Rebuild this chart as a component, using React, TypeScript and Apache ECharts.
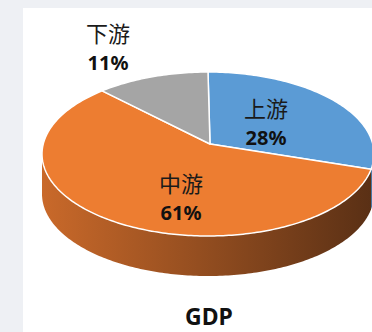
import React, { useEffect, useRef } from "react";
import * as echarts from "echarts";

const categories = ["上游", "中游", "下游"];
const values = [28, 61, 11];
const titleText = "GDP";

const topColors = ["#5B9BD5", "#ED7D31", "#A5A5A5"];
const sideStops = [
  ["#3f78ad", "#2a5480"],
  ["#c9692a", "#5a3015"],
  ["#8a8a8a", "#555555"],
];
// layout (pixels)
const CX = 208, CY = 154, RX = 166, RY = 82, HUB_X = 210, HUB_Y = 144, DEPTH = 40;
const LABEL_POS: Record<string, [number, number]> = {
  上游: [266, 107],
  中游: [181, 182],
  下游: [108, 32],
};

function rim(deg: number, dy = 0): number[] {
  const t = (deg * Math.PI) / 180;
  return [CX + RX * Math.sin(t), CY - RY * Math.cos(t) + dy];
}

export default function App() {
  const ref = useRef<HTMLDivElement>(null);
  useEffect(() => {
    const chart = echarts.init(ref.current!, undefined, { renderer: "svg" });
    const total = values.reduce((a, b) => a + b, 0);
    const starts: number[] = [];
    let acc = 0;
    values.forEach((v) => {
      starts.push(acc);
      acc += v;
    });
    chart.setOption({
      animation: false,
      backgroundColor: "transparent",
      title: {
        text: titleText,
        left: 209,
        top: 303,
        padding: 0,
        textAlign: "center",
        textStyle: { fontFamily: "Noto Sans", fontWeight: "bold", fontSize: 23, lineHeight: 26, color: "#111" },
      },
      series: [
        {
          type: "custom",
          coordinateSystem: "none",
          data: values.map((v, i) => ({ name: categories[i], value: [v] })),
          renderItem: (params: any, api: any) => {
            const i = params.dataIndex;
            const v = api.value(0);
            const a0 = (starts[i] / total) * 360;
            const a1 = ((starts[i] + v) / total) * 360;
            const children: any[] = [];
            const s0 = Math.max(a0, 90);
            const s1 = Math.min(a1, 270);
            if (s1 > s0) {
              const pts: number[][] = [];
              for (let d = s0; d <= s1; d += 1) pts.push(rim(d));
              pts.push(rim(s1));
              for (let d = s1; d >= s0; d -= 1) pts.push(rim(d, DEPTH));
              pts.push(rim(s0, DEPTH));
              children.push({
                type: "polygon",
                z2: 1,
                shape: { points: pts },
                style: {
                  fill: new echarts.graphic.LinearGradient(0, 0, 1, 0, [
                    { offset: 0, color: sideStops[i][0] },
                    { offset: 1, color: sideStops[i][1] },
                  ]),
                  stroke: "none",
                },
              });
            }
            const top: number[][] = [[HUB_X, HUB_Y]];
            for (let d = a0; d < a1; d += 1) top.push(rim(d));
            top.push(rim(a1));
            children.push({
              type: "polygon",
              z2: 5,
              shape: { points: top },
              style: { fill: topColors[i], stroke: "#ffffff", lineWidth: 1.5, lineJoin: "round" },
            });
            const name = categories[i];
            const [lx, ly] = LABEL_POS[name];
            children.push({
              type: "text",
              z2: 10,
              style: {
                text: name,
                x: lx,
                y: ly,
                textAlign: "center",
                textVerticalAlign: "middle",
                fill: "#1a1a1a",
                font: 'normal 22px "Noto Sans CJK SC"',
              },
            });
            children.push({
              type: "text",
              z2: 10,
              style: {
                text: Math.round((v / total) * 100) + "%",
                x: lx,
                y: ly + 30,
                textAlign: "center",
                textVerticalAlign: "middle",
                fill: "#111",
                font: 'bold 20px "Noto Sans"',
              },
            });
            return { type: "group", children };
          },
        },
      ],
    });
    return () => chart.dispose();
  }, []);
  return (
    <div style={{ position: "fixed", left: 0, top: 0, width: 372, height: 332, background: "#eef0f4", overflow: "hidden" }}>
      <div style={{ position: "absolute", left: 23, top: 8, width: 349, height: 324, background: "#ffffff" }} />
      <div ref={ref} style={{ position: "absolute", left: 0, top: 0, width: 372, height: 332 }} />
    </div>
  );
}
